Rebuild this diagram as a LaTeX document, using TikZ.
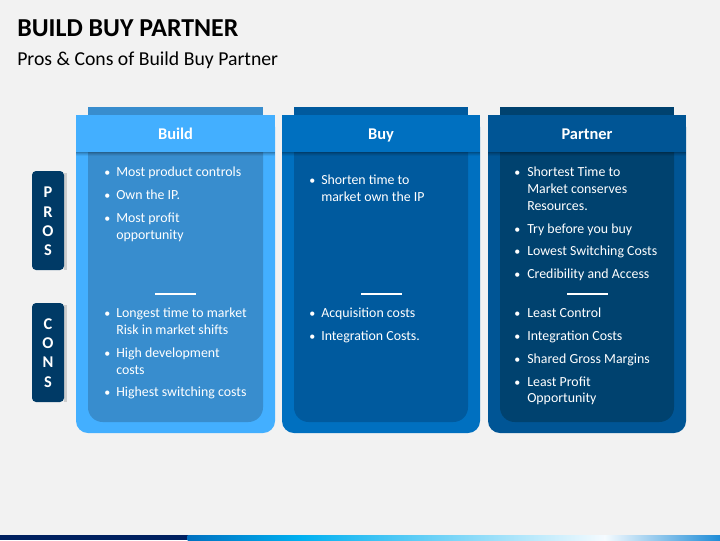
\documentclass[tikz,border=0pt]{standalone}
\usepackage{fontspec}
\setmainfont{Carlito}
\definecolor{bg}{HTML}{F2F2F2}
\definecolor{buildout}{HTML}{43AFFF}
\definecolor{buildin}{HTML}{388DCE}
\definecolor{buyout}{HTML}{0070C0}
\definecolor{buyin}{HTML}{005A9E}
\definecolor{partout}{HTML}{005595}
\definecolor{partin}{HTML}{00426F}
\definecolor{navy}{HTML}{003A66}
\definecolor{barnavy}{HTML}{002060}
\definecolor{barcyan}{HTML}{00B0F0}
\definecolor{barwhite}{HTML}{F5FBFF}
\definecolor{barblue}{HTML}{1E8CD7}
\tikzset{
  txt/.style={anchor=base west, inner sep=0pt, text=white, font=\fontsize{10.4}{12}\selectfont},
  bul/.style={anchor=base west, inner sep=0pt, text=white, font=\fontsize{9}{12}\selectfont},
  head/.style={anchor=base, inner sep=0pt, text=white, font=\bfseries\fontsize{12.3}{14}\selectfont},
  side/.style={inner sep=0pt, text=white, font=\bfseries\fontsize{12.3}{14}\selectfont},
  sep/.style={white, line width=0.8pt}
}
\newcommand\myb[5]{\node[bul] (#1b) at (#2,#4) {\textbullet}; \node[txt] (#1) at (#3,#4) {#5};}
\newcommand\myl[4]{\node[txt] (#1) at (#2,#3) {#4};}
\newcommand\mycol[6]{%
  \fill[#3, rounded corners=9pt] (#1,115) rectangle (#2,433);
  \fill[#4, rounded corners=11pt] ({#1+12},107) rectangle ({#2-12},422);
  \fill[#4] ({#1+12},107) rectangle ({#2-12},140);
  \fill[#3] (#1,115) rectangle (#2,152);
  \fill[black, opacity=0.30] (#1,152) rectangle (#2,153);
  \fill[black, opacity=0.20] (#1,153) rectangle (#2,154);
  \fill[black, opacity=0.12] (#1,154) rectangle (#2,155);
  \fill[black, opacity=0.05] (#1,155) rectangle (#2,156);
  \node[head] (#5) at ({(#1+#2)/2},139) {#6};
}
\begin{document}
\begin{tikzpicture}[x=0.75pt, y=-0.75pt]
\fill[bg] (0,0) rectangle (720,540);
% title
\node[anchor=base west, inner sep=0pt, font=\bfseries\fontsize{19.4}{22}\selectfont] (title) at (17,36) {BUILD BUY PARTNER};
\node[anchor=base west, inner sep=0pt, font=\fontsize{14.8}{17}\selectfont] (subtitle) at (17,65) {Pros \& Cons of Build Buy Partner};
% columns
\mycol{76}{275}{buildout}{buildin}{hbuild}{Build}
\mycol{282}{480}{buyout}{buyin}{hbuy}{Buy}
\mycol{488}{686}{partout}{partin}{hpartner}{Partner}
% separators
\draw[sep] (155,294) -- (196,294);
\draw[sep] (361,294) -- (402,294);
\draw[sep] (567,294) -- (608,294);
% side labels
\foreach \y in {171,303}{
  \fill[black, opacity=0.15] (64,{\y+2}) rectangle (67,{\y+99});
}
\fill[navy, rounded corners=3pt] (32,171) rectangle (64,270);
\fill[navy, rounded corners=3pt] (32,303) rectangle (64,402);
\node[side] (p1) at (48,192) {P};
\node[side] (p2) at (48,212) {R};
\node[side] (p3) at (48,231) {O};
\node[side] (p4) at (48,250) {S};
\node[side] (k1) at (48,324) {C};
\node[side] (k2) at (48,343) {O};
\node[side] (k3) at (48,362) {N};
\node[side] (k4) at (48,382) {S};
% Build pros
\myb{a1}{104}{116}{176}{Most product controls}
\myb{a2}{104}{116}{199}{Own the IP.}
\myb{a3}{104}{116}{222}{Most profit}
\myl{a3l}{116}{239}{opportunity}
% Build cons
\myb{a4}{104}{116}{317}{Longest time to market}
\myl{a4l}{116}{334}{Risk in market shifts}
\myb{a5}{104}{116}{357}{High development}
\myl{a5l}{116}{374}{costs}
\myb{a6}{104}{116}{396}{Highest switching costs}
% Buy pros
\myb{b1}{309}{321}{184}{Shorten time to}
\myl{b1l}{321}{201}{market own the IP}
% Buy cons
\myb{b2}{309}{321}{317}{Acquisition costs}
\myb{b3}{309}{321}{340}{Integration Costs.}
% Partner pros
\myb{c1}{514}{527}{176}{Shortest Time to}
\myl{c1l}{527}{193}{Market conserves}
\myl{c1m}{527}{210}{Resources.}
\myb{c2}{514}{527}{233}{Try before you buy}
\myb{c3}{514}{527}{255}{Lowest Switching Costs}
\myb{c4}{514}{527}{278}{Credibility and Access}
% Partner cons
\myb{c5}{514}{527}{317}{Least Control}
\myb{c6}{514}{527}{340}{Integration Costs}
\myb{c7}{514}{527}{363}{Shared Gross Margins}
\myb{c8}{514}{527}{386}{Least Profit}
\myl{c8l}{527}{402}{Opportunity}
% bottom bar
\fill[barnavy] (0,535) rectangle (188,540);
\shade[left color=buyout, right color=barcyan] (187.5,535) rectangle (300,540);
\shade[left color=barcyan, right color=barwhite] (299.5,535) rectangle (605,540);
\shade[left color=barwhite, right color=barblue] (604.5,535) rectangle (720,540);
\end{tikzpicture}
\end{document}
